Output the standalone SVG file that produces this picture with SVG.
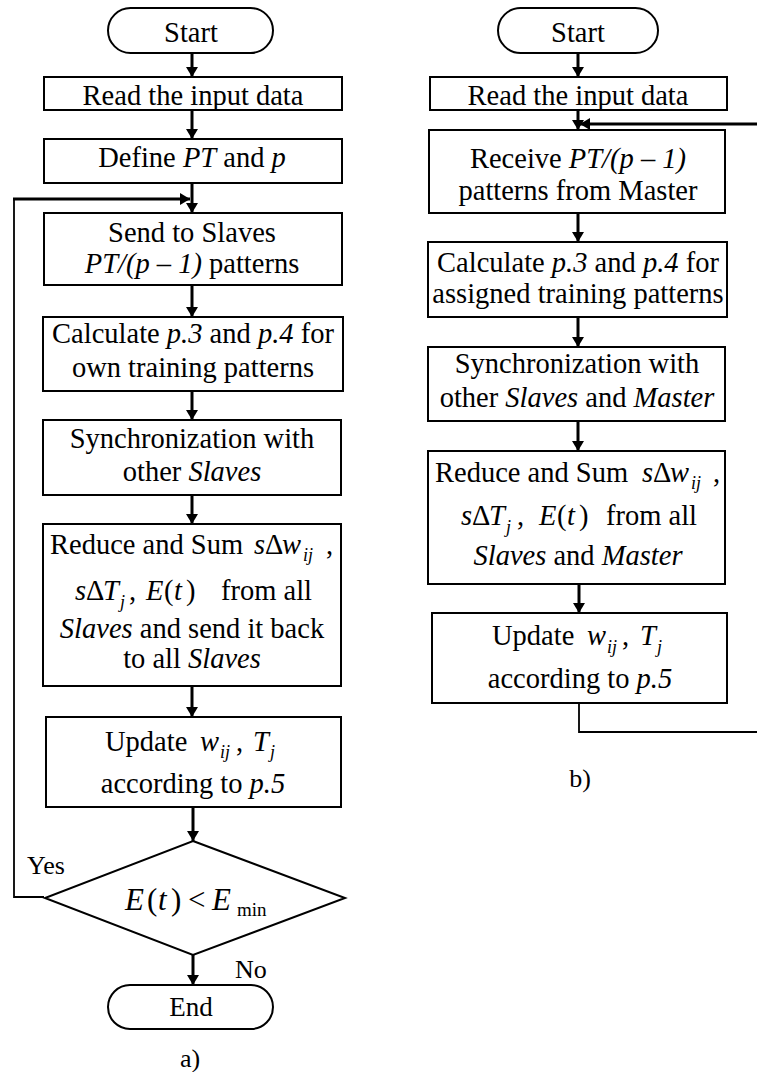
<svg xmlns="http://www.w3.org/2000/svg" width="757" height="1072" viewBox="0 0 757 1072">
<defs>
<style>
.t{font-family:'Liberation Serif','DejaVu Serif','Noto Serif','Times New Roman',Times,serif;font-size:28.5px;fill:#000}
.m{text-anchor:middle}
.i{font-style:italic}
.sub{font-size:18px;font-style:italic}
.box{fill:#fff;stroke:#000;stroke-width:2}
.arr{stroke:#000;stroke-width:3;fill:none;marker-end:url(#ah)}
.thin{stroke:#000;stroke-width:1.8;fill:none}
</style>
<marker id="ah" viewBox="0 0 10 12" markerWidth="10" markerHeight="12" refX="10" refY="6" orient="auto" markerUnits="userSpaceOnUse">
<path d="M0,0 L10,6 L0,12 z" fill="#000"/>
</marker>
</defs>
<rect width="757" height="1072" fill="#fff"/>

<g id="connectors">
<line class="arr" x1="192" y1="53" x2="192" y2="77"/>
<line class="arr" x1="192" y1="110" x2="192" y2="139"/>
<line class="arr" x1="192" y1="183" x2="192" y2="213"/>
<polyline class="thin" points="44,897 14,897 14,199"/>
<line class="arr" x1="13" y1="199" x2="190" y2="199"/>
<line class="arr" x1="192" y1="285" x2="192" y2="317"/>
<line class="arr" x1="192" y1="391" x2="192" y2="420"/>
<line class="arr" x1="192" y1="495" x2="192" y2="524"/>
<line class="arr" x1="192" y1="686" x2="192" y2="717"/>
<line class="arr" x1="193" y1="807" x2="193" y2="841"/>
<line class="arr" x1="193" y1="955" x2="193" y2="985"/>

<line class="arr" x1="578" y1="53" x2="578" y2="77"/>
<line class="arr" x1="578" y1="110" x2="578" y2="130"/>
<line class="arr" x1="757" y1="124" x2="580" y2="124"/>
<line class="arr" x1="578" y1="213" x2="578" y2="242"/>
<line class="arr" x1="578" y1="317" x2="578" y2="347"/>
<line class="arr" x1="578" y1="421" x2="578" y2="451"/>
<line class="arr" x1="579" y1="584" x2="579" y2="613"/>
<polyline class="thin" points="579,703 579,732 757,732"/>
</g>

<g id="a_start">
<rect class="box" x="108" y="8" width="165" height="45" rx="22.5"/>
<text class="t m" x="191" y="42">Start</text>
</g>
<g id="a_read">
<rect class="box" x="44" y="77" width="298" height="33"/>
<text class="t m" x="193" y="105">Read the input data</text>
</g>
<g id="a_define">
<rect class="box" x="44" y="139" width="298" height="44"/>
<text class="t m" x="192" y="167">Define <tspan class="i">PT</tspan> and <tspan class="i">p</tspan></text>
</g>
<g id="a_send">
<rect class="box" x="44" y="213" width="298" height="72"/>
<text class="t m" x="192" y="242">Send to Slaves</text>
<text class="t m" x="192" y="273"><tspan class="i">PT/(p – 1)</tspan> patterns</text>
</g>
<g id="a_calc">
<rect class="box" x="43" y="317" width="300" height="74"/>
<text class="t m" x="193" y="343">Calculate <tspan class="i">p.3</tspan> and <tspan class="i">p.4</tspan> for</text>
<text class="t m" x="193" y="377">own training patterns</text>
</g>
<g id="a_sync">
<rect class="box" x="43" y="420" width="298" height="75"/>
<text class="t m" x="192" y="448">Synchronization with</text>
<text class="t m" x="192" y="481">other <tspan class="i">Slaves</tspan></text>
</g>
<g id="a_reduce">
<rect class="box" x="43" y="524" width="298" height="162"/>
<text class="t" x="50" y="554">Reduce and Sum<tspan class="i" x="254">s</tspan><tspan x="265">Δ</tspan><tspan class="i" x="282">w</tspan><tspan class="sub" x="303" y="561">ij</tspan><tspan x="326" y="554">,</tspan></text>
<text class="t" y="600"><tspan class="i" x="75">s</tspan><tspan x="86">Δ</tspan><tspan class="i" x="103">T</tspan><tspan class="sub" x="120" y="608">j</tspan><tspan x="129" y="600">,</tspan><tspan class="i" x="146">E</tspan><tspan x="164">(</tspan><tspan class="i" x="174">t</tspan><tspan x="186">)</tspan><tspan x="221">from all</tspan></text>
<text class="t m" x="192" y="638"><tspan class="i">Slaves</tspan> and send it back</text>
<text class="t m" x="192" y="668">to all <tspan class="i">Slaves</tspan></text>
</g>
<g id="a_update">
<rect class="box" x="46" y="717" width="295" height="90"/>
<text class="t" y="751"><tspan x="105">Update</tspan><tspan class="i" x="200">w</tspan><tspan class="sub" x="220" y="758">ij</tspan><tspan x="236" y="751">,</tspan><tspan class="i" x="253">T</tspan><tspan class="sub" x="270" y="758">j</tspan></text>
<text class="t m" x="193" y="793">according to <tspan class="i">p.5</tspan></text>
</g>
<g id="a_decision">
<polygon class="box" points="193,841 345,898 193,955 45,898"/>
<text class="t" y="910" style="font-size:31px"><tspan class="i" x="125">E</tspan><tspan x="147">(</tspan><tspan class="i" x="158">t</tspan><tspan x="171">)</tspan><tspan x="188">&lt;</tspan><tspan class="i" x="212">E</tspan><tspan x="237" y="916" style="font-size:19px">min</tspan></text>
<text class="t" x="27" y="874" style="font-size:26px">Yes</text>
<text class="t" x="235" y="978" style="font-size:26px">No</text>
</g>
<g id="a_end">
<rect class="box" x="108" y="985" width="165" height="44" rx="22"/>
<text class="t m" x="191" y="1016" style="font-size:27px">End</text>
</g>
<text class="t m" x="190" y="1067" style="font-size:26px">a)</text>

<g id="b_start">
<rect class="box" x="498" y="8" width="160" height="45" rx="22.5"/>
<text class="t m" x="578" y="42">Start</text>
</g>
<g id="b_read">
<rect class="box" x="430" y="77" width="297" height="33"/>
<text class="t m" x="578" y="105">Read the input data</text>
</g>
<g id="b_receive">
<rect class="box" x="429" y="130" width="296" height="83"/>
<text class="t m" x="578" y="168">Receive <tspan class="i">PT/(p – 1)</tspan></text>
<text class="t m" x="578" y="200">patterns from Master</text>
</g>
<g id="b_calc">
<rect class="box" x="428" y="242" width="299" height="75"/>
<text class="t m" x="578" y="272">Calculate <tspan class="i">p.3</tspan> and <tspan class="i">p.4</tspan> for</text>
<text class="t m" x="578" y="303">assigned training patterns</text>
</g>
<g id="b_sync">
<rect class="box" x="428" y="347" width="297" height="74"/>
<text class="t m" x="577" y="373">Synchronization with</text>
<text class="t m" x="577" y="407">other <tspan class="i">Slaves</tspan> and <tspan class="i">Master</tspan></text>
</g>
<g id="b_reduce">
<rect class="box" x="428" y="451" width="297" height="133"/>
<text class="t" x="435" y="482">Reduce and Sum<tspan class="i" x="642">s</tspan><tspan x="653">Δ</tspan><tspan class="i" x="670">w</tspan><tspan class="sub" x="691" y="489">ij</tspan><tspan x="713" y="482">,</tspan></text>
<text class="t" y="525"><tspan class="i" x="461">s</tspan><tspan x="472">Δ</tspan><tspan class="i" x="489">T</tspan><tspan class="sub" x="506" y="533">j</tspan><tspan x="517" y="525">,</tspan><tspan class="i" x="539">E</tspan><tspan x="557">(</tspan><tspan class="i" x="567">t</tspan><tspan x="579">)</tspan><tspan x="606">from all</tspan></text>
<text class="t m" x="578" y="565"><tspan class="i">Slaves</tspan> and <tspan class="i">Master</tspan></text>
</g>
<g id="b_update">
<rect class="box" x="432" y="613" width="295" height="90"/>
<text class="t" y="645"><tspan x="492">Update</tspan><tspan class="i" x="587">w</tspan><tspan class="sub" x="607" y="653">ij</tspan><tspan x="622" y="645">,</tspan><tspan class="i" x="640">T</tspan><tspan class="sub" x="657" y="653">j</tspan></text>
<text class="t m" x="580" y="688">according to <tspan class="i">p.5</tspan></text>
</g>
<text class="t m" x="580" y="787" style="font-size:26px">b)</text>
</svg>
